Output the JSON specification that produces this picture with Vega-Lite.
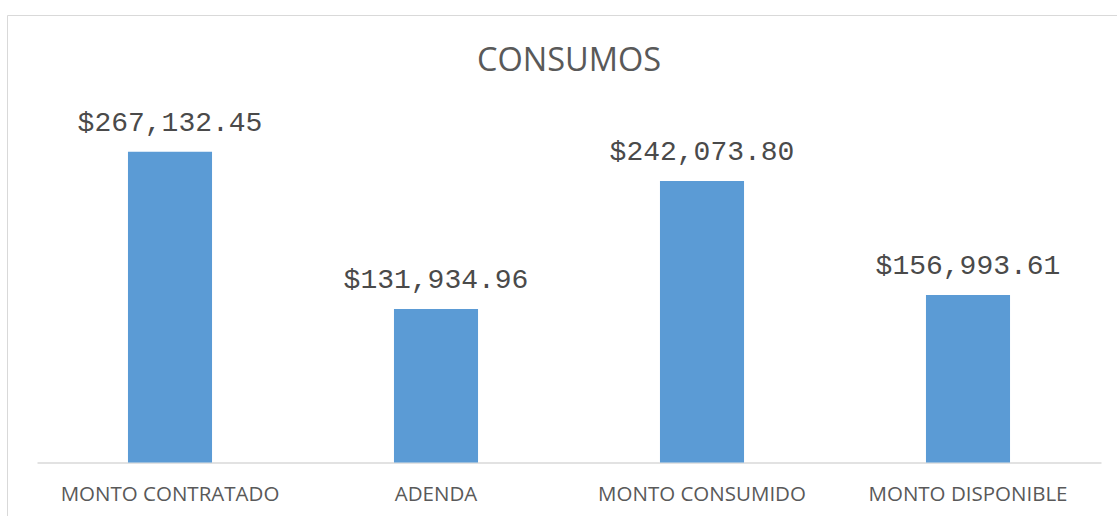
{
  "$schema": "https://vega.github.io/schema/vega-lite/v6.json",
  "autosize": "none",
  "padding": {"left": 7, "top": 15, "right": 0, "bottom": 0},
  "width": 1124,
  "height": 520,
  "background": "white",
  "config": {"view": {"stroke": "#D9D9D9", "strokeWidth": 1}},
  "title": {
    "text": "CONSUMOS",
    "font": "Open Sans",
    "fontSize": 32.5,
    "fontWeight": "normal",
    "color": "#595959",
    "anchor": "middle",
    "frame": "group",
    "baseline": "alphabetic",
    "offset": -88
  },
  "data": {
    "values": [
      {"categoria": "MONTO CONTRATADO", "valor": 267132.45, "etiqueta": "$267,132.45"},
      {"categoria": "ADENDA", "valor": 131934.96, "etiqueta": "$131,934.96"},
      {"categoria": "MONTO CONSUMIDO", "valor": 242073.80, "etiqueta": "$242,073.80"},
      {"categoria": "MONTO DISPONIBLE", "valor": 144000, "etiqueta": "$156,993.61"}
    ]
  },
  "encoding": {
    "x": {
      "field": "categoria",
      "type": "nominal",
      "sort": null,
      "scale": {"range": [30, 1094], "paddingInner": 0.684, "paddingOuter": 0.342},
      "axis": {
        "orient": "bottom",
        "offset": -72.5,
        "title": null,
        "labelAngle": 0,
        "ticks": false,
        "domainColor": "#D9D9D9",
        "domainWidth": 1.5,
        "labelFont": "Open Sans",
        "labelFontSize": 20.5,
        "labelColor": "#595959",
        "labelPadding": 22,
        "labelLimit": 0
      }
    },
    "y": {
      "field": "valor",
      "type": "quantitative",
      "scale": {"domain": [0, 300000], "range": [447.5, 98.6]},
      "axis": null
    }
  },
  "layer": [
    {"mark": {"type": "bar", "color": "#5B9BD5"}},
    {
      "mark": {
        "type": "text",
        "font": "Liberation Mono",
        "fontSize": 28,
        "color": "#4a4a4a",
        "baseline": "alphabetic",
        "dy": -21
      },
      "encoding": {"text": {"field": "etiqueta"}}
    }
  ]
}
